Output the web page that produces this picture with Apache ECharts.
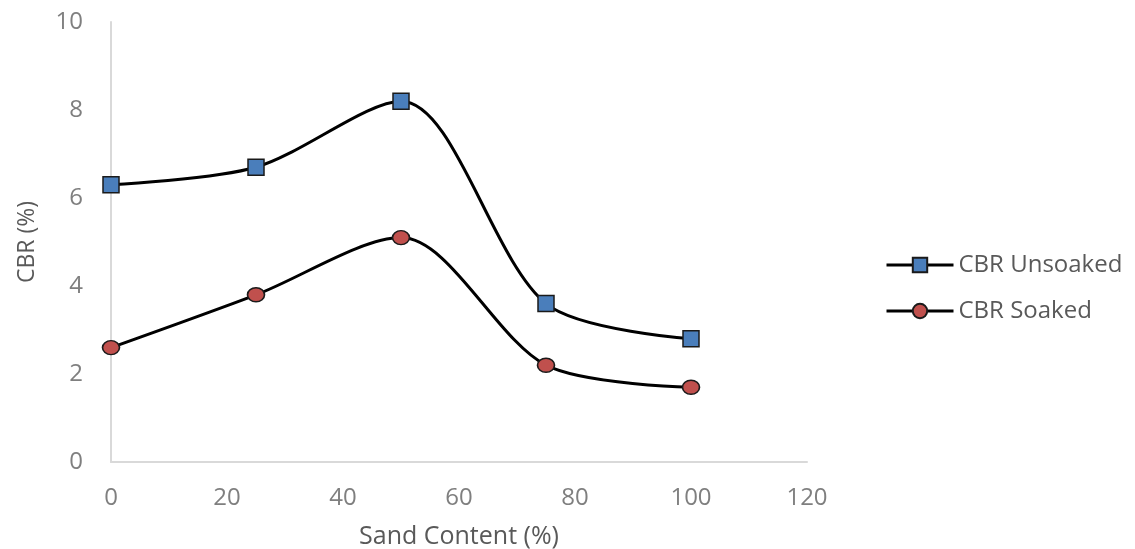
<!DOCTYPE html>
<html><head><meta charset="utf-8">
<script src="https://cdn.jsdelivr.net/npm/echarts@6/dist/echarts.min.js"></script>
<style>html,body{margin:0;padding:0;background:#fff}#c{width:1135px;height:549px}</style>
</head><body><div id="c"></div>
<script>
const sandContent = [0, 25, 50, 75, 100];
const cbrUnsoaked = [6.3, 6.7, 8.2, 3.6, 2.8];
const cbrSoaked = [2.6, 3.8, 5.1, 2.2, 1.7];
const seriesNames = ['CBR Unsoaked', 'CBR Soaked'];
const xAxisTitle = 'Sand Content (%)';
const yAxisTitle = 'CBR (%)';

const font = 'Open Sans';
const chart = echarts.init(document.getElementById('c'));
chart.setOption({
  animation: false,
  textStyle: { fontFamily: font },
  grid: { left: 111, right: 328, top: 22, bottom: 87, outerBoundsMode: 'none', containLabel: false },
  legend: {
    orient: 'vertical', left: 880, top: 248, itemGap: 22,
    itemWidth: 67, itemHeight: 18,
    lineStyle: { width: 3 },
    textStyle: { fontSize: 24, color: '#595959', fontFamily: font },
    data: seriesNames
  },
  xAxis: {
    type: 'value', min: 0, max: 120, interval: 20,
    name: xAxisTitle, nameLocation: 'middle', nameGap: 62,
    nameTextStyle: { fontSize: 25, color: '#595959', fontFamily: font },
    axisLine: { show: true, lineStyle: { color: '#d9d9d9', width: 2 } },
    axisTick: { show: false },
    splitLine: { show: false },
    axisLabel: { fontSize: 24, color: '#7f7f7f', margin: 24, fontFamily: font }
  },
  yAxis: {
    type: 'value', min: 0, max: 10, interval: 2,
    name: yAxisTitle, nameLocation: 'middle', nameGap: 72,
    nameTextStyle: { fontSize: 23, color: '#595959', fontFamily: font },
    axisLine: { show: true, lineStyle: { color: '#d9d9d9', width: 2 } },
    axisTick: { show: false },
    splitLine: { show: false },
    axisLabel: { fontSize: 24, color: '#7f7f7f', margin: 28, fontFamily: font }
  },
  series: [
    {
      name: seriesNames[0], type: 'line', smooth: 0.3,
      data: sandContent.map((x, i) => [x, cbrUnsoaked[i]]),
      symbol: 'rect', symbolSize: 16,
      lineStyle: { color: '#000', width: 3 },
      itemStyle: { color: '#4a7ebb', borderColor: '#1a1a1a', borderWidth: 1.5 }
    },
    {
      name: seriesNames[1], type: 'line', smooth: 0.3,
      data: sandContent.map((x, i) => [x, cbrSoaked[i]]),
      symbol: 'circle', symbolSize: [17, 14],
      lineStyle: { color: '#000', width: 3 },
      itemStyle: { color: '#c0504d', borderColor: '#1a1a1a', borderWidth: 1.5 }
    }
  ]
});
</script></body></html>
